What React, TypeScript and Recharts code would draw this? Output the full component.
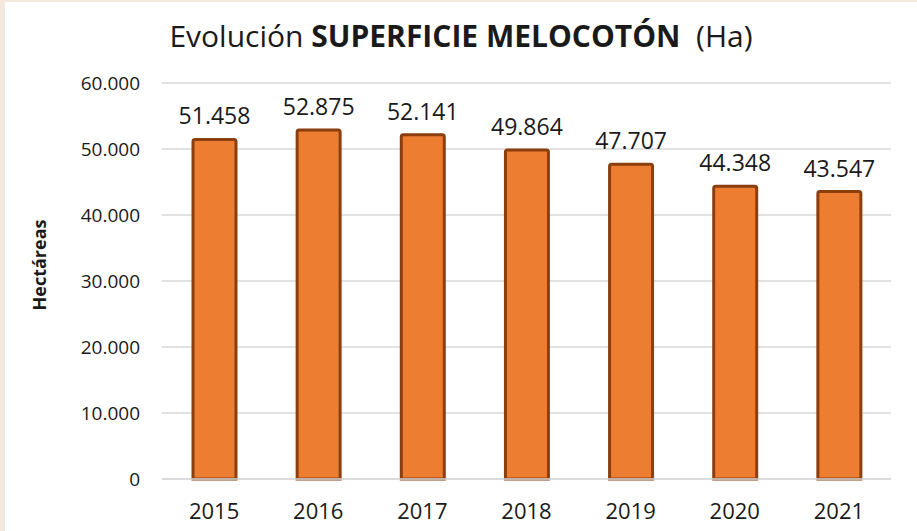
import React from 'react';
import { BarChart, Bar, XAxis, YAxis, CartesianGrid, LabelList } from 'recharts';

const years = ['2015', '2016', '2017', '2018', '2019', '2020', '2021'];
const hectares = [51458, 52875, 52141, 49864, 47707, 44348, 43547];
const yTicks = [0, 10000, 20000, 30000, 40000, 50000, 60000];

const data = years.map((y, i) => ({ year: y, value: hectares[i] }));

const fmt = (v: number) => (v === 0 ? '0' : v.toLocaleString('de-DE'));

const FONT = '"Open Sans", "Noto Sans", sans-serif';

export default function App() {
  return (
    <div style={{ position: 'absolute', left: 0, top: 0, width: 917, height: 531, background: '#FFFFFF', fontFamily: FONT }}>
      <div style={{ position: 'absolute', left: 0, top: 0, width: 917, height: 2, background: '#F5E7DA' }} />
      <div style={{ position: 'absolute', left: 0, top: 0, width: 4, height: 531, background: '#F5E7DA' }} />
      <div style={{ position: 'absolute', left: 4, top: 2, width: 1, height: 529, background: '#E8EAF0' }} />
      <div
        style={{
          position: 'absolute',
          left: 0,
          top: 14,
          width: 922,
          textAlign: 'center',
          fontSize: 30,
          color: '#1a1a1a',
          whiteSpace: 'pre',
          lineHeight: '44px',
        }}
      >
        <span>Evolución </span>
        <span style={{ fontWeight: 700 }}>SUPERFICIE MELOCOTÓN</span>
        <span>  (Ha)</span>
      </div>
      <div style={{ position: 'absolute', left: 0, top: 0 }}>
        <BarChart
          width={917}
          height={531}
          data={data}
          margin={{ top: 83, right: 26, bottom: 0, left: 0 }}
          barSize={43}
        >
          <CartesianGrid vertical={false} stroke="#D9D9D9" strokeWidth={1.5} />
          <XAxis
            dataKey="year"
            height={52}
            tickLine={false}
            axisLine={{ stroke: '#D9D9D9', strokeWidth: 1.5 }}
            tickSize={0}
            tickMargin={24}
            tick={{ fill: '#1a1a1a', fontSize: 22, fontFamily: FONT }}
          />
          <YAxis
            width={162}
            domain={[0, 60000]}
            ticks={yTicks}
            tickFormatter={fmt}
            tickLine={false}
            axisLine={false}
            tickSize={0}
            tickMargin={22}
            tick={{ fill: '#1a1a1a', fontSize: 19, fontFamily: FONT }}
            label={{
              content: () => (
                <text
                  x={46}
                  y={265}
                  transform="rotate(-90 46 265)"
                  textAnchor="middle"
                  fontSize={18}
                  fontWeight={700}
                  fontFamily={FONT}
                  fill="#1a1a1a"
                >
                  Hectáreas
                </text>
              ),
            }}
          />
          <Bar
            dataKey="value"
            fill="#ED7D31"
            stroke="#8B3E0E"
            strokeWidth={3}
            radius={[2, 2, 0, 0]}
            isAnimationActive={false}
          >
            <LabelList
              dataKey="value"
              position="top"
              offset={15}
              formatter={(v: any) => fmt(Number(v))}
              style={{ fill: '#1a1a1a', fontSize: 23, fontFamily: FONT }}
            />
          </Bar>
        </BarChart>
      </div>
    </div>
  );
}
